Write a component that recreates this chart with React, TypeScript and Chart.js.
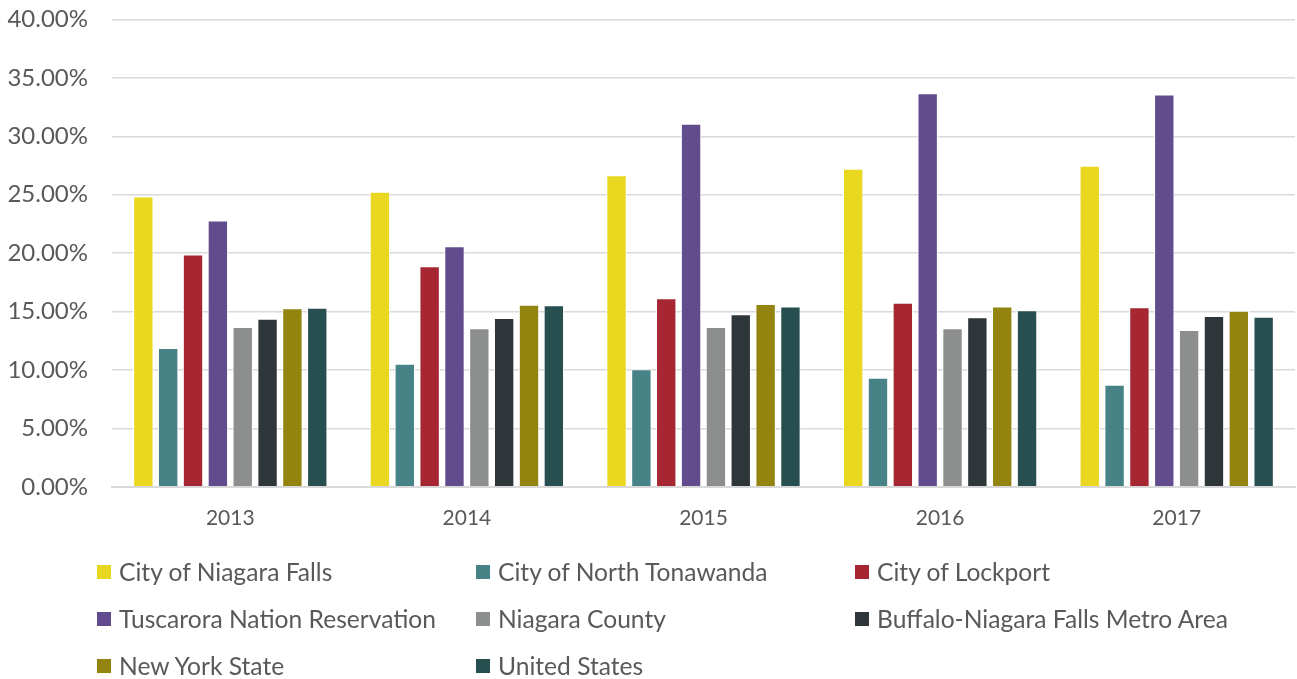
import React, { useEffect, useRef } from "react";
import { Chart, registerables } from "chart.js";

Chart.register(...registerables);

const years = ["2013", "2014", "2015", "2016", "2017"];
const seriesNames = [
  "City of Niagara Falls",
  "City of North Tonawanda",
  "City of Lockport",
  "Tuscarora Nation Reservation",
  "Niagara County",
  "Buffalo-Niagara Falls Metro Area",
  "New York State",
  "United States",
];
const niagaraFalls = [24.85, 25.24, 26.66, 27.21, 27.47];
const northTonawanda = [11.88, 10.54, 10.05, 9.34, 8.74];
const lockport = [19.87, 18.87, 16.13, 15.76, 15.36];
const tuscarora = [22.78, 20.58, 31.07, 33.69, 33.58];
const niagaraCounty = [13.68, 13.56, 13.68, 13.56, 13.42];
const metroArea = [14.39, 14.45, 14.76, 14.5, 14.62];
const newYorkState = [15.27, 15.59, 15.65, 15.42, 15.07];
const unitedStates = [15.33, 15.53, 15.42, 15.1, 14.56];
const seriesValues = [
  niagaraFalls,
  northTonawanda,
  lockport,
  tuscarora,
  niagaraCounty,
  metroArea,
  newYorkState,
  unitedStates,
];
const colors = [
  "#E9D81F",
  "#468286",
  "#A62632",
  "#624C8D",
  "#8C8F8D",
  "#2E3639",
  "#92840F",
  "#284F50",
];

const FONT = "Lato, 'Open Sans', sans-serif";
const TEXT = "#595959";

export default function App() {
  const ref = useRef<HTMLCanvasElement | null>(null);

  useEffect(() => {
    if (!ref.current) return;
    const chart = new Chart(ref.current, {
      type: "bar",
      data: {
        labels: years,
        datasets: seriesNames.map((name, i) => ({
          label: name,
          data: seriesValues[i],
          backgroundColor: colors[i],
          borderColor: "#FFFFFF",
          borderWidth: 1,
          categoryPercentage: 0.84,
          barPercentage: 0.82,
        })),
      },
      options: {
        animation: false,
        responsive: false,
        maintainAspectRatio: false,
        layout: { padding: { top: 0, right: 2, left: 0, bottom: 0 } },
        plugins: {
          legend: { display: false },
          tooltip: { enabled: false },
        },
        scales: {
          x: {
            grid: { display: false, drawTicks: false },
            border: { display: true, color: "#D9D9D9", width: 2 },
            ticks: {
              color: TEXT,
              font: { family: FONT, size: 21 },
              padding: 19,
            },
          },
          y: {
            min: 0,
            max: 40,
            afterFit: (s: any) => {
              s.width = 112;
            },
            grid: { color: "#D9D9D9", lineWidth: 1.5, drawTicks: false },
            border: { display: false },
            ticks: {
              stepSize: 5,
              color: TEXT,
              font: { family: FONT, size: 24 },
              padding: 24,
              callback: (v: any) => Number(v).toFixed(2) + "%",
            },
          },
        },
      },
    });
    return () => chart.destroy();
  }, []);

  return (
    <div
      style={{
        position: "fixed",
        left: 0,
        top: 0,
        width: 1297,
        height: 679,
        background: "#fff",
        fontFamily: FONT,
        overflow: "hidden",
      }}
    >
      <canvas
        ref={ref}
        width={1297}
        height={569}
        style={{ display: "block", position: "absolute", left: 0, top: -19 }}
      />
      <div
        style={{
          position: "absolute",
          left: 97,
          top: 548,
          display: "grid",
          gridTemplateColumns: "379px 379px 379px",
        }}
      >
        {seriesNames.map((name, i) => (
          <div
            key={name}
            style={{
              display: "flex",
              alignItems: "center",
              height: 47,
            }}
          >
            <span
              style={{
                display: "inline-block",
                width: 14,
                height: 14,
                background: colors[i],
                marginRight: 8,
              }}
            />
            <span style={{ color: TEXT, fontSize: 24.6, whiteSpace: "nowrap" }}>{name}</span>
          </div>
        ))}
      </div>
    </div>
  );
}
